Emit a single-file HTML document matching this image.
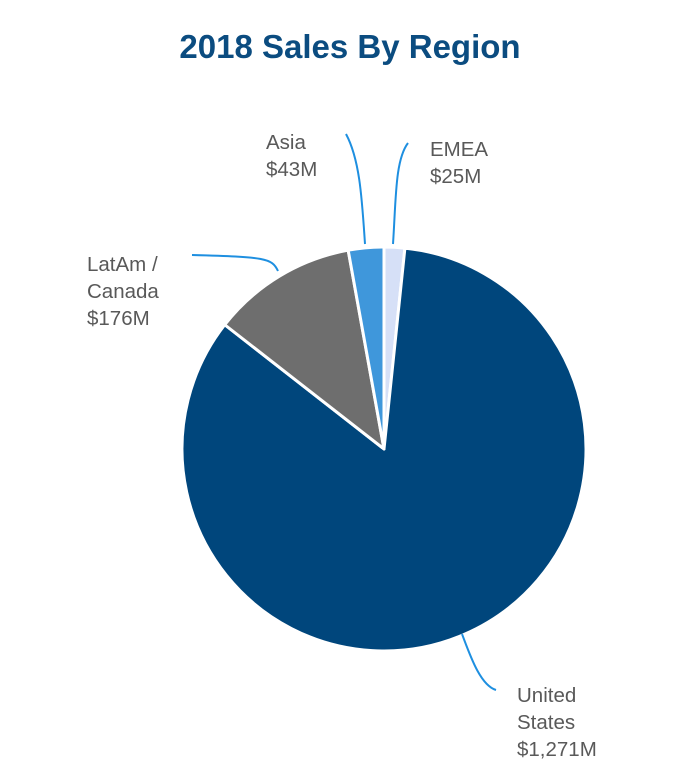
<!DOCTYPE html>
<html><head><meta charset="utf-8"><style>
body{margin:0;background:#fff;width:700px;height:770px;overflow:hidden}
svg{display:block}
text{font-family:"Liberation Sans",sans-serif}
</style></head><body>
<svg width="700" height="770">
<text x="350" y="58" text-anchor="middle" font-size="33" font-weight="bold" fill="#0b4c80">2018 Sales By Region</text>
<g id="slices"></g>
<g id="leaders" fill="none" stroke="#1e8fe0" stroke-width="2">
<path d="M365,244 C362,200 360,160 346,134"/>
<path d="M393,244 C396,200 395,160 408,143"/>
<path d="M278,271 C272,258 265,257 192,255"/>
<path d="M462,634 C470,655 480,685 496,690"/>
</g>
<g font-size="20.5" fill="#595959">
<text x="266" y="149"><tspan x="266">Asia</tspan><tspan x="266" dy="27">$43M</tspan></text>
<text x="430" y="156"><tspan x="430">EMEA</tspan><tspan x="430" dy="27">$25M</tspan></text>
<text x="87" y="271"><tspan x="87">LatAm /</tspan><tspan x="87" dy="27">Canada</tspan><tspan x="87" dy="27">$176M</tspan></text>
<text x="517" y="702"><tspan x="517">United</tspan><tspan x="517" dy="27">States</tspan><tspan x="517" dy="27">$1,271M</tspan></text>
</g>
</svg>
<script>
const regions=["EMEA","United States","LatAm / Canada","Asia"];
const sales=[25,1271,176,43];
const colors=["#d6e0f7","#00467c","#6e6e6e","#3f97db"];
const cx=384,cy=449,r=202;
const g=document.getElementById('slices');
const total=sales.reduce((a,b)=>a+b,0);
let a0=0;
function pt(a){return [cx+r*Math.sin(a),cy-r*Math.cos(a)];}
sales.forEach((v,i)=>{
  const a1=a0+v/total*2*Math.PI;
  const p0=pt(a0),p1=pt(a1);
  const large=(a1-a0)>Math.PI?1:0;
  const p=document.createElementNS('http://www.w3.org/2000/svg','path');
  p.setAttribute('d',`M${cx},${cy} L${p0[0]},${p0[1]} A${r},${r} 0 ${large} 1 ${p1[0]},${p1[1]} Z`);
  p.setAttribute('fill',colors[i]);
  p.setAttribute('stroke','#fff');
  p.setAttribute('stroke-width','3');
  p.setAttribute('stroke-linejoin','round');
  
  
  g.appendChild(p);
  a0=a1;
});
</script>
</body></html>
